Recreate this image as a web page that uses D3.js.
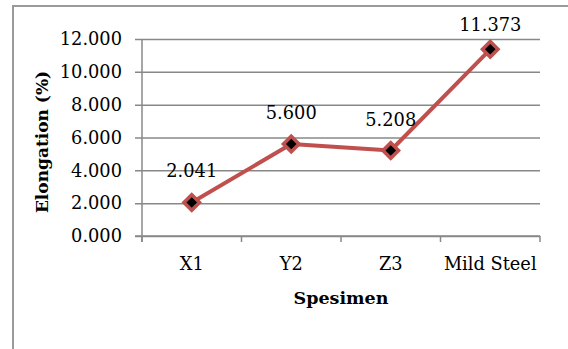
<!DOCTYPE html>
<html>
<head>
<meta charset="utf-8">
<script src="https://cdn.jsdelivr.net/npm/d3@7"></script>
<style>
  html, body { margin: 0; padding: 0; background: #fff; }
  svg { display: block; }
</style>
</head>
<body>
<svg id="chart" width="568" height="349"></svg>
<script>
// Elongation per specimen
const categories = ["X1", "Y2", "Z3", "Mild Steel"];
const elongation = [2.041, 5.600, 5.208, 11.373];
const yTicks = [0, 2, 4, 6, 8, 10, 12];

const FONT = "'DejaVu Serif', 'Liberation Serif', 'Times New Roman', serif";
const FS = 17.8;

const svg = d3.select("#chart").attr("font-family", FONT);
const W = 568, H = 349;
const plot = { left: 142, right: 540, top: 39, bottom: 236 };

// chart area frame
svg.append("rect")
  .attr("x", 13).attr("y", 6)
  .attr("width", W + 10).attr("height", H + 10)
  .attr("fill", "#fff").attr("stroke", "#9a9a9a").attr("stroke-width", 2);

const x = d3.scaleBand().domain(categories).range([plot.left, plot.right]);
const y = d3.scaleLinear().domain([0, 12]).range([plot.bottom, plot.top]);

// horizontal gridlines + y axis labels
const yAxis = d3.axisLeft(y).tickValues(yTicks)
  .tickFormat(d3.format(".3f"))
  .tickSize(-(plot.right - plot.left)).tickPadding(20);
const gy = svg.append("g").attr("transform", `translate(${plot.left},0)`).call(yAxis)
  .attr("font-family", FONT);
gy.select(".domain").remove();
gy.selectAll(".tick line")
  .attr("x1", -7)
  .attr("stroke", "#888").attr("stroke-width", 1.5);
gy.selectAll(".tick text").attr("font-size", FS).attr("fill", "#000");

// vertical axis line
svg.append("line")
  .attr("x1", plot.left).attr("x2", plot.left)
  .attr("y1", plot.top).attr("y2", plot.bottom + 6)
  .attr("stroke", "#888").attr("stroke-width", 1.5);

// x axis with ticks on category boundaries
const gx = svg.append("g").attr("transform", `translate(0,${plot.bottom})`);
gx.append("line")
  .attr("x1", plot.left - 7).attr("x2", plot.right)
  .attr("stroke", "#888").attr("stroke-width", 1.5);
const bounds = categories.map(c => x(c)).concat([x(categories[categories.length - 1]) + x.bandwidth()]);
gx.selectAll("line.tk").data(bounds).join("line").attr("class", "tk")
  .attr("x1", d => d).attr("x2", d => d)
  .attr("y1", 0).attr("y2", 6)
  .attr("stroke", "#888").attr("stroke-width", 1.5);
gx.selectAll("text.cat").data(categories).join("text").attr("class", "cat")
  .attr("x", d => x(d) + x.bandwidth() / 2)
  .attr("y", 34)
  .attr("text-anchor", "middle")
  .attr("font-size", FS)
  .text(d => d);

// axis titles
svg.append("text")
  .attr("transform", `translate(48,142) rotate(-90)`)
  .attr("text-anchor", "middle")
  .attr("font-size", 17).attr("font-weight", "bold")
  .text("Elongation (%)");
svg.append("text")
  .attr("x", (plot.left + plot.right) / 2).attr("y", 304)
  .attr("text-anchor", "middle")
  .attr("font-size", 17.5).attr("font-weight", "bold")
  .text("Spesimen");

// series line
const pts = categories.map((c, i) => ({ c, v: elongation[i] }));
const cx = d => x(d.c) + x.bandwidth() / 2;
svg.append("path")
  .datum(pts)
  .attr("d", d3.line().x(cx).y(d => y(d.v)))
  .attr("fill", "none").attr("stroke", "#c0504d").attr("stroke-width", 4)
  .attr("stroke-linejoin", "round");

// diamond markers
const g = svg.selectAll("g.pt").data(pts).join("g").attr("class", "pt")
  .attr("transform", d => `translate(${cx(d)},${y(d.v)})`);
g.append("rect")
  .attr("x", -5.5).attr("y", -5.5).attr("width", 11).attr("height", 11)
  .attr("transform", "rotate(45)")
  .attr("fill", "#000").attr("stroke", "#c0504d").attr("stroke-width", 3.5);

// value labels above each point
svg.selectAll("text.val").data(pts).join("text").attr("class", "val")
  .attr("x", cx)
  .attr("y", d => Math.max(y(d.v) - 25, 31))
  .attr("text-anchor", "middle")
  .attr("font-size", FS)
  .text(d => d3.format(".3f")(d.v));
</script>
</body>
</html>
